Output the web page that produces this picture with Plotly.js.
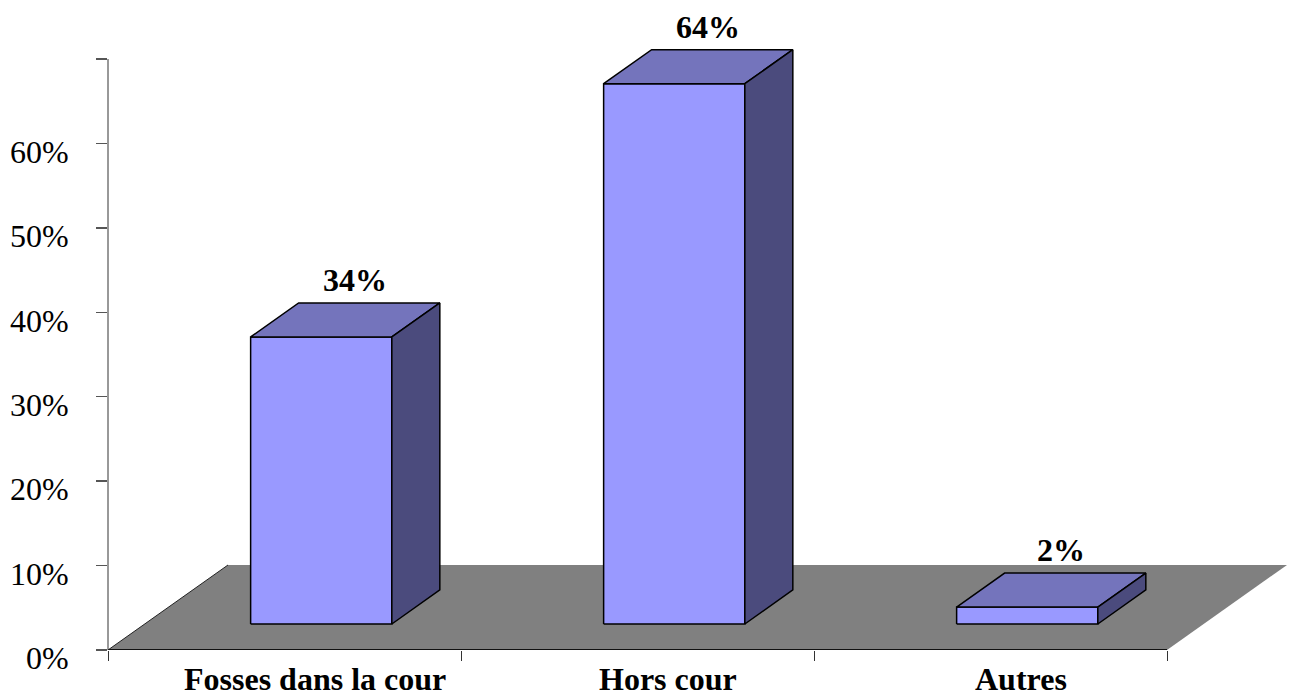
<!DOCTYPE html>
<html>
<head>
<meta charset="utf-8">
<script src="https://cdn.plot.ly/plotly-3.0.1.min.js"></script>
<style>html,body{margin:0;padding:0;background:#fff;}#chart{width:1290px;height:699px;}</style>
</head>
<body>
<div id="chart"></div>
<script>
// ---- data ----
const categories = ['Fosses dans la cour', 'Hors cour', 'Autres'];
const values = [0.34, 0.64, 0.02];
const valueLabels = ['34%', '64%', '2%'];
const yTickVals = [0, 0.1, 0.2, 0.3, 0.4, 0.5, 0.6, 0.7];
const yTickText = ['0%', '10%', '20%', '30%', '40%', '50%', '60%', ''];

// ---- 3D projection settings (axis units) ----
const Y_AXIS_TOP = 0.7;       // top of the drawn value axis
const Y_RANGE_TOP = 0.7403;   // a little headroom for the 3D tops
const FLOOR_DX = 0.340, FLOOR_DY = 0.1007;
const FRONT_FRAC = 0.306, DEPTH_FRAC = 0.40;
const BAR_W = 0.4, BAR_START = 0.3;
const bx = FRONT_FRAC * FLOOR_DX, by = FRONT_FRAC * FLOOR_DY;
const ddx = DEPTH_FRAC * FLOOR_DX, ddy = DEPTH_FRAC * FLOOR_DY;
const n = categories.length;
const FONT = 'Liberation Serif, Times New Roman, serif';
const FS = 32;

const traces = [];
// floor
traces.push({x: [0, n, n + FLOOR_DX, FLOOR_DX, 0], y: [0, 0, FLOOR_DY, FLOOR_DY, 0],
  mode: 'lines', fill: 'toself', fillcolor: '#808080', line: {width: 0, color: '#808080'}, hoverinfo: 'skip'});
traces.push({x: [0, FLOOR_DX], y: [0, FLOOR_DY], mode: 'lines', line: {color: '#222', width: 1}, hoverinfo: 'skip'});
traces.push({x: [0, n], y: [0, 0], mode: 'lines', line: {color: '#111', width: 2}, hoverinfo: 'skip'});

// bars
values.forEach((v, i) => {
  const x0 = i + BAR_START + bx, x1 = x0 + BAR_W, y0 = by, y1 = by + v;
  const faces = [
    {x: [x0, x1, x1, x0, x0], y: [y0, y0, y1, y1, y0], c: '#9999FF'},
    {x: [x0, x1, x1 + ddx, x0 + ddx, x0], y: [y1, y1, y1 + ddy, y1 + ddy, y1], c: '#7474BC'},
    {x: [x1, x1 + ddx, x1 + ddx, x1, x1], y: [y0, y0 + ddy, y1 + ddy, y1, y0], c: '#4B4B7D'}
  ];
  faces.forEach(f => traces.push({x: f.x, y: f.y, mode: 'lines', fill: 'toself', fillcolor: f.c,
    line: {color: '#000', width: 1.5}, hoverinfo: 'skip'}));
});

const annotations = [];
values.forEach((v, i) => annotations.push({
  x: i + 0.70, y: v + by + ddy, xref: 'x', yref: 'y', yshift: 23,
  text: '<b>' + valueLabels[i] + '</b>', showarrow: false, xanchor: 'center', yanchor: 'middle',
  font: {family: FONT, size: FS, color: '#000'}
}));
categories.forEach((c, i) => annotations.push({
  x: i + 0.585, y: 0, xref: 'x', yref: 'paper', yshift: -49,
  text: '<b>' + c + '</b>', showarrow: false, xanchor: 'center', yanchor: 'bottom',
  font: {family: FONT, size: FS, color: '#000'}
}));

const layout = {
  width: 1290, height: 699,
  margin: {l: 108, r: 0, t: 25, b: 49},
  paper_bgcolor: '#fff', plot_bgcolor: 'rgba(0,0,0,0)',
  showlegend: false, hovermode: false,
  font: {family: FONT, size: FS, color: '#000'},
  annotations: annotations,
  shapes: [{type: 'line', xref: 'paper', yref: 'y', x0: 0, x1: 0, y0: 0, y1: Y_AXIS_TOP,
    line: {color: '#333', width: 1}, layer: 'above'}],
  xaxis: {range: [0, 1182 / 353], tickvals: [0, 1, 2, 3], ticks: 'outside', ticklen: 10,
    tickcolor: '#333', tickwidth: 1, showticklabels: false, showline: false, showgrid: false, zeroline: false, fixedrange: true},
  yaxis: {range: [0, Y_RANGE_TOP], tickvals: yTickVals, ticktext: yTickText, ticks: 'outside', ticklen: 11,
    tickcolor: '#555', tickwidth: 1.5, showline: false,
    showgrid: false, zeroline: false, ticklabelstandoff: 21, ticklabelshift: 8,
    tickfont: {family: FONT, size: FS, color: '#000'}, fixedrange: true}
};

Plotly.newPlot('chart', traces, layout, {staticPlot: true, displayModeBar: false});
</script>
</body>
</html>
